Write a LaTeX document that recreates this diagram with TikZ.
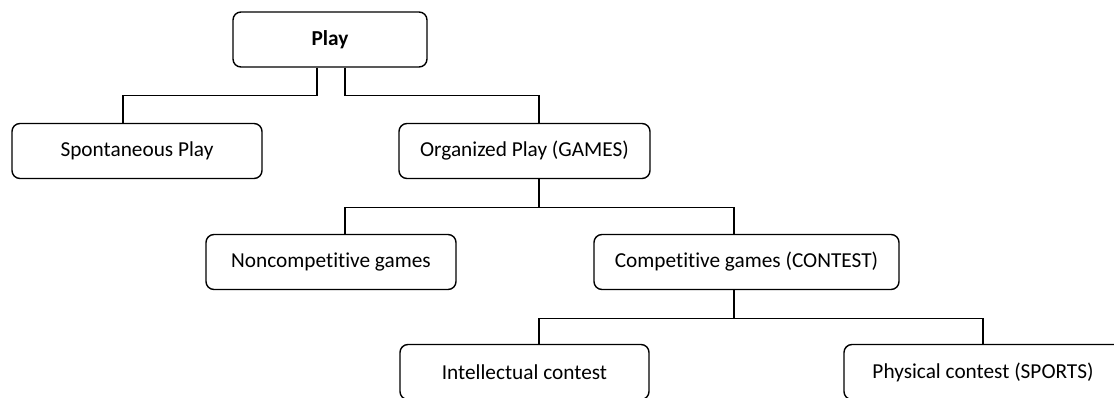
\documentclass[tikz,border=0pt]{standalone}
\usepackage{fontspec}
\setmainfont[Ligatures=NoCommon]{Carlito}
\usepackage{tikz}
\tikzset{catbox/.style={draw, line width=1.4pt, rounded corners=8pt, minimum height=55pt, inner sep=0pt, font=\fontsize{21.3}{26}\selectfont}}
\tikzset{branch/.style={line width=1.3pt}}

\begin{document}
\begin{tikzpicture}[x=1pt,y=-1pt]
\useasboundingbox (0,0) rectangle (1114,397);
\node[catbox, minimum width=194pt, font=\fontsize{21.3}{26}\selectfont\bfseries] (play) at (330,39.5) {Play};
\node[catbox, minimum width=250pt] (spont) at (137,151) {Spontaneous Play};
\node[catbox, minimum width=251pt] (org) at (524.5,151) {Organized Play (GAMES)};
\node[catbox, minimum width=250pt] (noncomp) at (331,262) {Noncompetitive games};
\node[catbox, minimum width=305pt] (comp) at (746.5,262) {Competitive games (CONTEST)};
\node[catbox, minimum width=249pt] (intel) at (524.5,372) {Intellectual contest};
\node[catbox, minimum width=278pt] (phys) at (983,372) {Physical contest (SPORTS)};
\draw[branch] ([xshift=-13pt]play.south) -- ++(0,28) -| ([xshift=-14pt]spont.north);
\draw[branch] ([xshift=15pt]play.south) -- ++(0,28) -| ([xshift=14.5pt]org.north);
\draw[branch] ([xshift=14.5pt]org.south) -- ++(0,28) -| ([xshift=14pt]noncomp.north);
\draw[branch] ([xshift=14.5pt]org.south) -- ++(0,28) -| ([xshift=-12.5pt]comp.north);
\draw[branch] ([xshift=-12.5pt]comp.south) -- ++(0,28) -| ([xshift=14.5pt]intel.north);
\draw[branch] ([xshift=-12.5pt]comp.south) -- ++(0,28) -| (phys.north);
\end{tikzpicture}
\end{document}
